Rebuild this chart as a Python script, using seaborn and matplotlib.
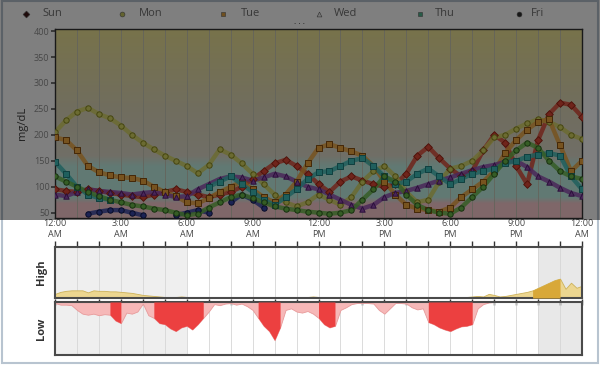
import numpy as np
import pandas as pd
import seaborn as sns
import matplotlib.pyplot as plt
from matplotlib.patches import Rectangle
from matplotlib.lines import Line2D

nan = np.nan

# half-hour readings (mg/dL), 12:00 AM .. 12:00 AM
hours = np.arange(0, 24.5, 0.5)
sun = [95, 92, 90, 95, 92, 88, 85, 82, 80, 85,
       90, 95, 90, 85, 80, 85, 90, 100, 115, 130,
       145, 152, 140, 125, 105, 90, 110, 120, 112, 105,
       100, 105, 125, 160, 177, 155, 135, 120, 130, 170,
       200, 185, 140, 105, 190, 240, 262, 258, 235]
mon = [205, 228, 245, 252, 240, 232, 218, 200, 185, 172,
       160, 150, 140, 126, 142, 172, 162, 145, 125, 105,
       85, 70, 62, 70, 85, 75, 65, 80, 110, 130,
       140, 120, 90, 70, 75, 110, 135, 140, 150, 170,
       195, 200, 212, 222, 230, 225, 215, 200, 192]
tue = [195, 190, 170, 140, 128, 122, 118, 117, 112, 100,
       90, 82, 70, 68, 78, 90, 100, 110, 95, 80,
       70, 85, 110, 145, 175, 182, 175, 168, 160, 140,
       110, 85, 65, 58, 55, 52, 60, 80, 95, 110,
       130, 165, 190, 210, 225, 230, 180, 130, 150]
wed = [85, 82, 90, 95, 92, 90, 88, 85, 88, 90,
       85, 80, 82, 95, 105, 115, 120, 118, 112, 118,
       125, 120, 110, 100, 95, 85, 75, 65, 58, 65,
       80, 88, 92, 98, 105, 112, 118, 125, 132, 138,
       142, 148, 150, 138, 120, 110, 98, 88, 82]
thu = [148, 125, 100, 85, 78, 75, nan, nan, nan, nan,
       nan, nan, nan, nan, 100, 110, 120, 105, 90, 75,
       65, 80, 95, 115, 128, 130, 140, 150, 155, 140,
       120, 105, 110, 125, 135, 120, 105, 115, 125, 130,
       135, 145, 150, 158, 162, 165, 160, 120, 95]
fri = [nan, nan, nan, 48, 52, 55, 55, 50, 45, nan,
       nan, 45, 50, 55, 50, nan, 70, 85, 75, 60,
       nan, nan, nan, nan, nan, nan, nan, nan, nan, nan,
       nan, nan, nan, nan, nan, nan, nan, nan, nan, nan,
       nan, nan, nan, nan, nan, nan, nan, nan, nan]
sat = [120, 110, 100, 90, 82, 75, 70, 65, 62, 58,
       55, 50, 45, 48, 60, 70, 80, 85, 78, 70,
       62, 58, 55, 52, 50, 48, 50, 55, 75, 95,
       120, 110, 85, 65, 55, 50, 48, 60, 80, 100,
       125, 150, 170, 185, 175, 150, 130, 120, 115]

days = ["Sun", "Mon", "Tue", "Wed", "Thu", "Fri", "Sat"]
legend_days = ["Sun", "Mon", "Tue", "Wed", "Thu", "Fri"]

# quarter-hour high / low exposure
quarter = np.arange(0, 24.25, 0.25)
high = [8, 12, 14, 15, 15, 15, 11, 15, 14, 14, 13, 13, 12, 11, 10, 8, 6, 5, 4, 3,
        2, 2, 2, 3, 2, 2, 1, 2, 2, 2, 2, 2, 2, 2, 2, 1, 2, 2, 2, 2,
        2, 2, 2, 2, 2, 2, 2, 3, 2, 2, 2, 2, 2, 2, 2, 2, 2, 2, 2, 2,
        2, 2, 2, 2, 2, 2, 2, 2, 2, 2, 2, 2, 2, 2, 2, 2, 3, 4, 3, 8,
        6, 3, 4, 6, 8, 10, 12, 15, 20, 25, 30, 35, 38, 18, 30, 20, 24]
low = [2, 5, 5, 6, 15, 22, 24, 22, 25, 23, 24, 35, 40, 20, 22, 18, 3, 25, 30, 40,
       42, 50, 55, 48, 45, 52, 42, 30, 18, 4, 6, 3, 2, 5, 3, 8, 15, 30, 45, 55,
       72, 48, 15, 12, 18, 20, 17, 22, 30, 42, 48, 45, 15, 10, 4, 2, 2, 2, 3, 15,
       22, 12, 2, 2, 3, 10, 14, 12, 38, 42, 48, 52, 55, 50, 46, 45, 42, 12, 4, 1,
       0, 0, 0, 0, 0, 0, 0, 0, 0, 0, 0, 0, 0, 0, 0, 0, 0]
high_alert = [(21.75, 23.0)]
low_alert = [(2.5, 3.0), (4.5, 6.75), (9.25, 10.25), (12.0, 12.75), (17.0, 19.0)]

time_ticks = [0, 3, 6, 9, 12, 15, 18, 21, 24]
time_labels = ["12:00\nAM", "3:00\nAM", "6:00\nAM", "9:00\nAM", "12:00\nPM",
               "3:00\nPM", "6:00\nPM", "9:00\nPM", "12:00\nAM"]

df = pd.DataFrame({"hour": np.tile(hours, 7),
                   "value": np.concatenate([sun, mon, tue, wed, thu, fri, sat]),
                   "day": np.repeat(days, len(hours))})

face = {"Sun": "#e04a38", "Mon": "#d8d864", "Tue": "#f0a840", "Wed": "#9650b4",
        "Thu": "#40c0bc", "Fri": "#3848a8", "Sat": "#6cbc4c"}
edge = {"Sun": "#a02818", "Mon": "#8a8a20", "Tue": "#8a5010", "Wed": "#582078",
        "Thu": "#208080", "Fri": "#101850", "Sat": "#306020"}
mark = {"Sun": "D", "Mon": "o", "Tue": "s", "Wed": "^", "Thu": "s", "Fri": "o", "Sat": "o"}

sns.set_theme(style="white")
plt.rcParams["font.family"] = ["Open Sans", "DejaVu Sans"]

fig = plt.figure(figsize=(6, 3.65), dpi=100)
fig.patch.set_facecolor("white")
ax = fig.add_axes([0.0917, 0.403, 0.8783, 0.5175])
axh = fig.add_axes([0.0917, 0.1836, 0.8783, 0.1397])
axl = fig.add_axes([0.0917, 0.0274, 0.8783, 0.1452])

# main chart background bands (target range etc.)
yv = np.linspace(40, 404, 400)
stops = [40, 68, 80, 140, 160, 250, 404]
cols = np.array([[255, 208, 212], [255, 208, 212], [196, 244, 232], [196, 244, 232],
                 [226, 222, 206], [226, 220, 190], [240, 230, 150]]) / 255
grad = np.stack([np.interp(yv, stops, cols[:, i]) for i in range(3)], axis=-1)[:, None, :]
ax.imshow(grad, extent=[0, 24, 40, 404], origin="lower", aspect="auto", zorder=0)
for h in range(1, 24):
    ax.axvline(h, color="#c8c8b8", lw=0.6, zorder=1)

for d in days:
    sub = df[df["day"] == d]
    ax.plot(sub["hour"], sub["value"], color=face[d], lw=3.2, alpha=0.85, zorder=2)
    sns.scatterplot(data=sub, x="hour", y="value", marker=mark[d], color=face[d],
                    edgecolor=edge[d], linewidth=0.7, s=15, ax=ax, legend=False, zorder=3)

ax.set_xlim(0, 24)
ax.set_ylim(40, 404)
ax.set_yticks(range(50, 401, 50))
ax.set_xticks([])
ax.set_xlabel("")
ax.set_ylabel("mg/dL", fontsize=8, color="#404040", labelpad=4)
ax.tick_params(axis="y", labelsize=6.5, labelcolor="#909090", length=3, color="#606060",
               left=True, pad=1)
for s in ax.spines.values():
    s.set_color("#333333")
    s.set_linewidth(1)

# high / low panels
for a in (axh, axl):
    a.set_facecolor("white")
    a.axvspan(0, 6, color="#efefef", lw=0, zorder=0)
    a.axvspan(22, 24, color="#e8e8e8", lw=0, zorder=0)
    for h in range(1, 24):
        a.axvline(h, color="#d6d6d6", lw=0.6, zorder=1)
    a.set_xlim(0, 24)
    a.set_yticks([])
    for s in a.spines.values():
        s.set_color("#4a4a4a")
        s.set_linewidth(1.5)

q = np.array(quarter)
hi = np.array(high)
lo = np.array(low)
axh.fill_between(q, 0, hi, color="#ecd690", lw=0.6, edgecolor="#cdb25a", zorder=2)
for a0, a1 in high_alert:
    axh.fill_between(q, 0, hi, where=(q >= a0) & (q <= a1), color="#d8a838", lw=0, zorder=3)
axh.set_ylim(0, 100)
axl.fill_between(q, 0, lo, color="#f6b8b8", lw=0.6, edgecolor="#e89a9a", zorder=2)
for a0, a1 in low_alert:
    axl.fill_between(q, 0, lo, where=(q >= a0) & (q <= a1), color="#ec4040", lw=0, zorder=3)
axl.set_ylim(100, 0)

axh.xaxis.tick_top()
axh.set_xticks(time_ticks)
axh.set_xticklabels(time_labels)
axh.set_xticks(range(25), minor=True)
axh.tick_params(axis="x", which="both", top=True, bottom=False, direction="out",
                length=4, width=1, color="#333333", labelsize=6.5, labelcolor="#444444", pad=2)
axl.set_xticks(range(25))
axl.set_xticklabels([])
axl.tick_params(axis="x", top=True, bottom=False, direction="inout", length=4, width=1,
                color="#333333")
axh.set_ylabel("High", fontsize=8, color="#333333", fontweight="bold", labelpad=6)
axl.set_ylabel("Low", fontsize=8, color="#333333", fontweight="bold", labelpad=6)

# legend row
ly = 1 - 14 / 365
mx = [26, 122, 223, 319, 420, 519]
tx = [42, 139, 241, 334, 435, 531]
leg_face = {"Sun": "#401818", "Mon": "#c8c860", "Tue": "#e0a040", "Wed": "#f0f0f0",
            "Thu": "#50b890", "Fri": "#303030"}
for d, m, t in zip(legend_days, mx, tx):
    fig.add_artist(Line2D([m / 600], [ly], transform=fig.transFigure, marker=mark[d],
                          markersize=3.5, color=leg_face[d], markeredgecolor="#606060",
                          markeredgewidth=0.4, lw=0, zorder=5))
    fig.text(t / 600, ly, d, fontsize=8, color="#707070", va="center", ha="left", zorder=5)
fig.text(299 / 600, 1 - 22 / 365, ". . .", fontsize=6, color="#303030", ha="center",
         va="center", zorder=5)

# frame and dimming overlay over the top part
fig.add_artist(Rectangle((0.003, 0.006), 0.994, 0.99, transform=fig.transFigure, fill=False,
                         edgecolor="#b8c4d0", lw=1.5, zorder=1))
fig.add_artist(Rectangle((0, 1 - 220 / 365), 1, 220 / 365, transform=fig.transFigure,
                         color="black", alpha=0.5, lw=0, zorder=20))

fig.savefig("out.png", dpi=100)
